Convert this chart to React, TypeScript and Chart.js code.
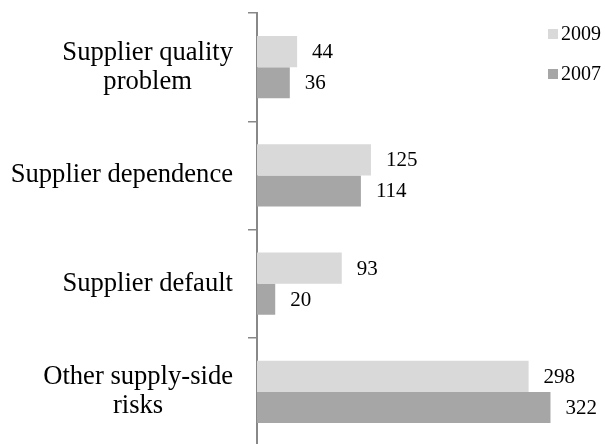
import React, { useEffect, useRef } from "react";
import { Chart, registerables } from "chart.js";

Chart.register(...registerables);

const categories: string[][] = [
  ["Supplier quality", "problem"],
  ["Supplier dependence"],
  ["Supplier default"],
  ["Other supply-side", "risks"],
];
const series2009: number[] = [44, 125, 93, 298];
const series2007: number[] = [36, 114, 20, 322];
const seriesNames: string[] = ["2009", "2007"];
const colors: string[] = ["#d9d9d9", "#a6a6a6"];

const FONT = "'Liberation Serif', 'Times New Roman', serif";

const labelPlugin = {
  id: "customLabels",
  afterDraw(chart: any) {
    const ctx = chart.ctx as CanvasRenderingContext2D;
    const yScale = chart.scales.y;
    ctx.save();
    // category labels
    ctx.font = `26.6px ${FONT}`;
    ctx.fillStyle = "#000";
    ctx.textBaseline = "middle";
    ctx.textAlign = "center";
    const rightEdge = 233;
    const lineH = 29;
    categories.forEach((lines, i) => {
      const yc = yScale.getPixelForValue(i);
      const w = Math.max(...lines.map((l) => ctx.measureText(l).width));
      const cx = rightEdge - w / 2;
      const n = lines.length;
      lines.forEach((l, j) => {
        const y = yc + (j - (n - 1) / 2) * lineH;
        ctx.fillText(l, cx, y);
      });
    });
    // value labels
    ctx.font = `21px ${FONT}`;
    ctx.textAlign = "left";
    chart.data.datasets.forEach((ds: any, di: number) => {
      const meta = chart.getDatasetMeta(di);
      meta.data.forEach((el: any, i: number) => {
        ctx.fillText(String(ds.data[i]), el.x + 15, el.y + 1);
      });
    });
    // legend
    ctx.font = `20px ${FONT}`;
    seriesNames.forEach((name, i) => {
      const y = 34 + i * 40;
      ctx.fillStyle = colors[i];
      ctx.fillRect(548, y - 5, 10, 10);
      ctx.fillStyle = "#000";
      ctx.fillText(name, 561, y + 1);
    });
    ctx.restore();
  },
};

export default function App() {
  const ref = useRef<HTMLCanvasElement | null>(null);
  useEffect(() => {
    if (!ref.current) return;
    const chart = new Chart(ref.current, {
      type: "bar",
      data: {
        labels: categories.map((c) => c.join(" ")),
        datasets: [
          {
            label: seriesNames[0],
            data: series2009,
            backgroundColor: colors[0],
            categoryPercentage: 0.575,
            barPercentage: 1,
          },
          {
            label: seriesNames[1],
            data: series2007,
            backgroundColor: colors[1],
            categoryPercentage: 0.575,
            barPercentage: 1,
          },
        ],
      },
      options: {
        indexAxis: "y",
        responsive: false,
        devicePixelRatio: 1,
        animation: false,
        layout: { padding: { top: 13, right: 29, bottom: 0, left: 0 } },
        plugins: {
          legend: { display: false },
          tooltip: { enabled: false },
        },
        scales: {
          x: { display: false, min: 0, max: 350 },
          y: {
            type: "category",
            ticks: { display: false },
            grid: {
              display: true,
              drawOnChartArea: false,
              drawTicks: true,
              tickLength: 9,
              color: "#888888",
              lineWidth: 1.5,
              offset: true,
            },
            border: { display: true, color: "#888888", width: 2 },
            afterFit: (s: any) => {
              s.width = 257;
            },
          },
        },
      },
      plugins: [labelPlugin],
    });
    return () => chart.destroy();
  }, []);
  return (
    <div
      style={{
        position: "fixed",
        left: 0,
        top: 0,
        width: 605,
        height: 444,
        overflow: "hidden",
        background: "#fff",
      }}
    >
      <canvas ref={ref} width={605} height={446} style={{ display: "block" }} />
    </div>
  );
}
